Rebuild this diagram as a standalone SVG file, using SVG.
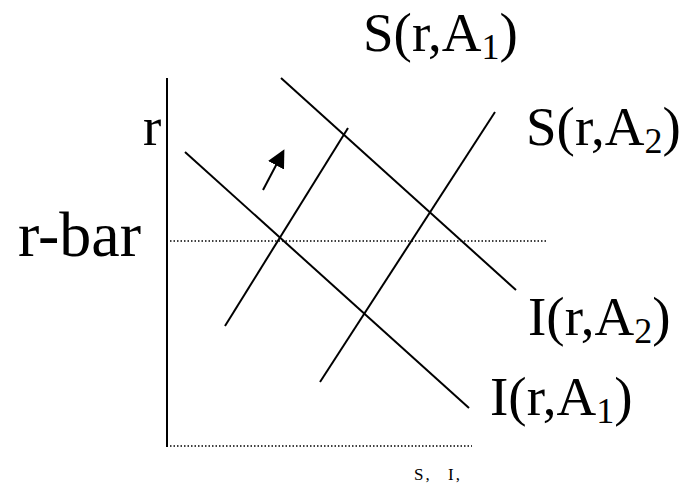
<svg xmlns="http://www.w3.org/2000/svg" width="685" height="488" viewBox="0 0 685 488">
<style>
.ln{stroke:#000;stroke-width:2;fill:none}
.dot{stroke:#000;stroke-width:1.5;stroke-dasharray:1.5 2;fill:none}
.lbl{font-family:"Liberation Serif",serif;font-size:55px;fill:#000}
.sub{font-size:36px}
</style>
<defs>
<marker id="ahb" markerWidth="18" markerHeight="18" refX="15" refY="9" orient="auto" markerUnits="userSpaceOnUse" viewBox="0 0 18 18">
<path d="M0,0 L18,9 L0,18 Z" fill="#000"/>
</marker>
</defs>
<g id="axes">
<line class="ln" x1="167" y1="78" x2="167" y2="447"/>
<line class="dot" x1="170" y1="446" x2="472" y2="446"/>
<line class="dot" x1="170" y1="241" x2="548" y2="241"/>
</g>
<g id="connectors">
<line id="I1" class="ln" x1="185" y1="152" x2="469" y2="408"/>
<line id="I2" class="ln" x1="281" y1="78" x2="516" y2="290"/>
<line id="S1" class="ln" x1="225" y1="326" x2="348" y2="128"/>
<line id="S2" class="ln" x1="320" y1="382" x2="495" y2="112"/>
<line id="shift" class="ln" x1="263" y1="190" x2="283" y2="152" marker-end="url(#ahb)"/>
</g>
<g id="label-S1"><text class="lbl" x="363" y="51">S(r,A<tspan class="sub" dy="8">1</tspan><tspan dy="-8">)</tspan></text></g>
<g id="label-r"><text class="lbl" x="143" y="145">r</text></g>
<g id="label-rbar"><text class="lbl" x="18" y="256" style="font-size:64px">r-bar</text></g>
<g id="label-S2"><text class="lbl" x="526" y="145">S(r,A<tspan class="sub" dy="8">2</tspan><tspan dy="-8">)</tspan></text></g>
<g id="label-I2"><text class="lbl" x="528" y="335">I(r,A<tspan class="sub" dy="8">2</tspan><tspan dy="-8">)</tspan></text></g>
<g id="label-I1"><text class="lbl" x="490" y="415">I(r,A<tspan class="sub" dy="8">1</tspan><tspan dy="-8">)</tspan></text></g>
<g id="label-SI"><text y="480" style="font-family:'Liberation Serif',serif;font-size:17px;letter-spacing:2px"><tspan x="414">S,</tspan><tspan x="448">I,</tspan></text></g>
</svg>
